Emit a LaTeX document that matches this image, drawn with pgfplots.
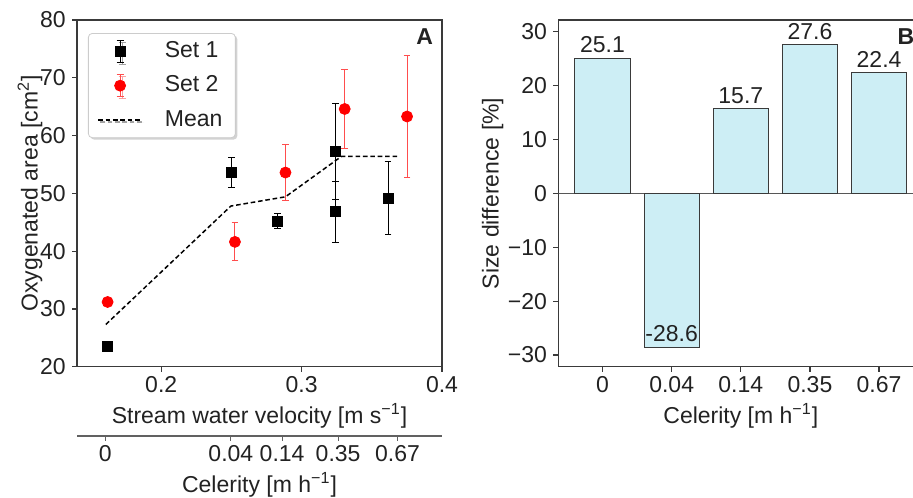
\documentclass[border=0pt]{standalone}
\usepackage{fontspec}
\setmainfont{Liberation Sans}
\usepackage{pgfplots}
\pgfplotsset{compat=1.18}
\usetikzlibrary{shadows}

\definecolor{spine}{HTML}{3A3A3A}
\definecolor{txt}{HTML}{222222}
\definecolor{barfill}{HTML}{CDEEF5}
\definecolor{errred}{HTML}{FF4D4D}

% 1 px of the reference = 0.5pt
\pgfplotsset{
  panel/.style={
    scale only axis, width=182.5pt,
    axis line style={spine, line width=0.6pt},
    tick style={spine, line width=0.6pt},
    tick align=outside, major tick length=2.5pt,
    xtick pos=bottom, ytick pos=left,
    xticklabel style={anchor=base, inner sep=0pt, yshift=-10.5pt, text=txt},
    yticklabel style={anchor=east, inner sep=0pt, xshift=-3pt, text=txt},
    xlabel style={at={(axis description cs:0.5,0)}, anchor=base, yshift=-28.3pt, text=txt},
    ylabel style={text=txt},
  },
  errlegend/.style={legend image code/.code={
    \draw[#1, line width=0.5pt] (11pt,-5.5pt) -- (11pt,5.5pt)
      (9.3pt,-5.5pt) -- (12.7pt,-5.5pt) (9.3pt,5.5pt) -- (12.7pt,5.5pt);
    \draw[##1] plot coordinates {(11pt,0pt)};}},
  dashlegend/.style={legend image code/.code={\draw[##1] (0pt,0pt) -- (22pt,0pt);}},
}

\begin{document}
\fontsize{11.5pt}{13.8pt}\selectfont
\begin{tikzpicture}
\path[use as bounding box] (0,0) rectangle (456.5pt,248.5pt);
\clip (0,0) rectangle (456.5pt,248.5pt);

% ---- panel A
\begin{axis}[panel, at={(38.5pt,65.15pt)}, anchor=south west, height=173.35pt,
  xmin=0.14, xmax=0.4, ymin=20, ymax=80,
  xtick={0.2,0.3,0.4}, xticklabels={0.2,0.3,0.4},
  ytick={20,30,40,50,60,70,80}, yticklabels={20,30,40,50,60,70,80},
  xlabel={Stream water velocity [m s\textsuperscript{−1}]},
  ylabel={Oxygenated area [cm\textsuperscript{2}]},
  ylabel style={at={(axis description cs:-0.108,0.5)}, anchor=base},
  legend style={at={(rel axis cs:0.03,0.9625)}, anchor=north west,
    draw=gray!40, rounded corners=2pt, fill=white,
    drop shadow={shadow xshift=1pt, shadow yshift=-1pt, opacity=0.35},
    inner xsep=4.5pt, inner ysep=2pt, row sep=3.5pt, column sep=9pt, text=txt},
  legend cell align=left,
]
\addplot[only marks, mark=square*, mark size=2.5pt, black, errlegend=black,
  error bars/.cd, y dir=both, y explicit,
  error bar style={black, line width=0.5pt},
  error mark options={rotate=90, mark size=1.7pt, black, line width=0.5pt}]
  coordinates {
  (0.1616,23.5) +- (0,0)
  (0.2501,53.6) +- (0,2.6)
  (0.2828,45.2) +- (0,1.35)
  (0.3241,57.3) +- (0,8.3)
  (0.3241,46.8) +- (0,5.3)
  (0.3616,49.2) +- (0,6.3)
  };
\addlegendentry{Set 1}
\addplot[only marks, mark=*, mark size=2.75pt, red, errlegend=errred,
  error bars/.cd, y dir=both, y explicit,
  error bar style={errred, line width=0.5pt},
  error mark options={rotate=90, mark size=1.7pt, errred, line width=0.5pt}]
  coordinates {
  (0.1618,31.2) +- (0,0)
  (0.2525,41.6) +- (0,3.3)
  (0.2885,53.6) +- (0,4.8)
  (0.3307,64.6) +- (0,6.8)
  (0.3751,63.3) +- (0,10.6)
  };
\addlegendentry{Set 2}
\addplot[black, line width=0.75pt, dash pattern=on 2.3pt off 1.4pt, dashlegend]
  coordinates {(0.1605,27.3) (0.2496,47.8) (0.2885,49.4) (0.3284,56.4) (0.3692,56.4)};
\addlegendentry{Mean}
\node[anchor=north east, inner sep=0pt, font=\bfseries, text=txt,
  xshift=-4.35pt, yshift=-4.15pt] at (rel axis cs:1,1) {A};
\end{axis}

% ---- second x axis (celerity)
\begin{axis}[scale only axis, width=182.5pt, height=1pt,
  at={(38.5pt,30.5pt)}, anchor=south west,
  xmin=0.14, xmax=0.4, ymin=0, ymax=1,
  axis x line*=bottom, axis y line=none,
  axis line style={spine!80, line width=0.6pt},
  tick style={spine!80, line width=0.6pt},
  tick align=outside, major tick length=2.5pt,
  xtick={0.1601,0.2496,0.2861,0.3260,0.3683},
  xticklabels={0,0.04,0.14,0.35,0.67},
  xticklabel style={anchor=base, inner sep=0pt, yshift=-10.5pt, text=txt},
  xlabel={Celerity [m h\textsuperscript{−1}]},
  xlabel style={at={(axis description cs:0.5,0)}, anchor=base, yshift=-28.3pt, text=txt},
]
\end{axis}

% ---- panel B
\begin{axis}[panel, at={(279.15pt,65.15pt)}, anchor=south west, height=173.35pt,
  xmin=-0.64, xmax=4.64, ymin=-32.17, ymax=32.17,
  xtick={0,1,2,3,4}, xticklabels={0,0.04,0.14,0.35,0.67},
  ytick={-30,-20,-10,0,10,20,30}, yticklabels={−30,−20,−10,0,10,20,30},
  xlabel={Celerity [m h\textsuperscript{−1}]},
  ylabel={Size difference [\%]},
  ylabel style={at={(axis description cs:-0.1638,0.5)}, anchor=base},
]
\draw[spine!85, line width=0.6pt] (rel axis cs:0,0.5) -- (rel axis cs:1,0.5);
\addplot[ybar, bar width=0.8, fill=barfill, draw=spine, line width=0.5pt,
  nodes near coords, point meta=explicit symbolic,
  every node near coord/.append style={anchor=south, inner sep=0pt, yshift=2.4pt, text=txt}]
  coordinates {(0,25.1) [25.1] (1,-28.6) [-28.6] (2,15.7) [15.7] (3,27.6) [27.6] (4,22.4) [22.4]};
\node[anchor=north east, inner sep=0pt, font=\bfseries, text=txt,
  xshift=-4.35pt, yshift=-4.15pt] at (rel axis cs:1,1) {B};
\end{axis}
\end{tikzpicture}
\end{document}
